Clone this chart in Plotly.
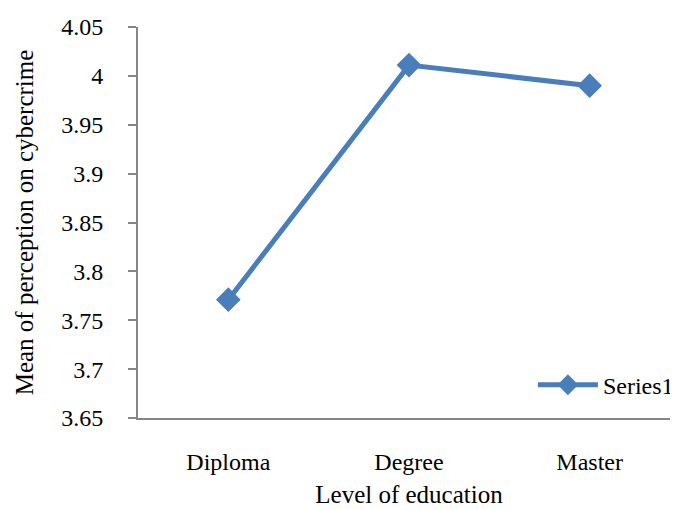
import plotly.graph_objects as go

categories = ["Diploma", "Degree", "Master"]
values = [3.771, 4.011, 3.990]
series_name = "Series1"
y_ticks = [3.65, 3.7, 3.75, 3.8, 3.85, 3.9, 3.95, 4.0, 4.05]
y_tick_labels = ["3.65", "3.7", "3.75", "3.8", "3.85", "3.9", "3.95", "4", "4.05"]

FONT = "Liberation Serif"
BLUE = "#4A7EBB"
AXIS = "#868686"

fig = go.Figure()
fig.add_trace(go.Scatter(
    x=categories, y=values, name=series_name, mode="lines+markers",
    line=dict(color=BLUE, width=5),
    marker=dict(symbol="diamond", size=19, color=BLUE),
    showlegend=True,
))

fig.update_layout(
    width=678, height=510,
    margin=dict(l=130, r=6, t=19, b=100, autoexpand=False),
    paper_bgcolor="white", plot_bgcolor="white",
    font=dict(family=FONT, size=24, color="black"),
    xaxis=dict(
        type="category", range=[-0.5, 2.5], automargin=False,
        showline=True, linecolor=AXIS, linewidth=2,
        showgrid=False, zeroline=False, ticks="",
        ticklabelstandoff=21,
        tickfont=dict(family=FONT, size=24, color="black"),
        title=dict(text="Level of education", font=dict(family=FONT, size=25, color="black"), standoff=12),
    ),
    yaxis=dict(
        range=[3.65, 4.05], tickvals=y_ticks, ticktext=y_tick_labels, automargin=False,
        showline=True, linecolor=AXIS, linewidth=2,
        showgrid=False, zeroline=False,
        ticks="outside", ticklen=8, tickcolor=AXIS, tickwidth=2,
        ticklabelstandoff=20,
        tickfont=dict(family=FONT, size=24, color="black"),
        title=dict(text="Mean of perception on cybercrime", font=dict(family=FONT, size=25, color="black"), standoff=20),
    ),
    legend=dict(
        x=0.998, xanchor="right", y=0.084, yanchor="middle",
        bgcolor="rgba(0,0,0,0)", font=dict(family=FONT, size=24, color="black"),
        itemwidth=60,
    ),
)

fig.write_html("out.html", include_plotlyjs=True)
